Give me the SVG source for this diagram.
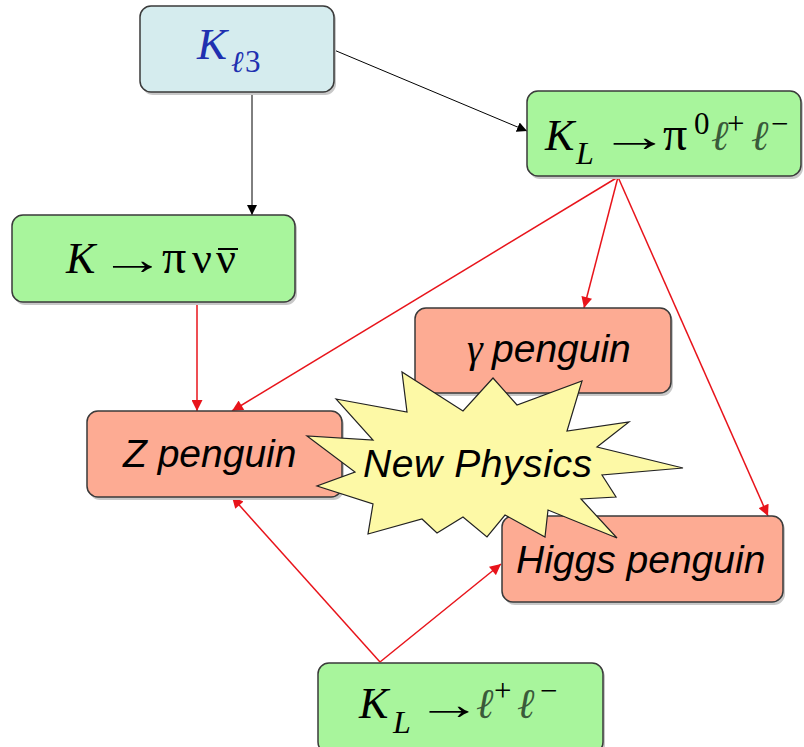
<svg xmlns="http://www.w3.org/2000/svg" width="804" height="747" viewBox="0 0 804 747">
<defs>
<style>
.box{stroke:#3a3a3a;stroke-width:1.5}
.shadow{fill:#c8c8c8}
.blue{fill:#d5ecee}
.green{fill:#a8f59c}
.salmon{fill:#fdab93}
.m{font-family:"Liberation Serif","DejaVu Serif",serif;fill:#000}
.arr{font-family:"Liberation Serif","DejaVu Serif",serif;fill:#000;font-size:44px;text-anchor:middle}
.mi{font-family:"Liberation Serif","DejaVu Serif",serif;font-style:italic;fill:#000}
.ell{font-family:"Liberation Serif","DejaVu Serif",serif;font-style:italic;fill:#3a5a3a}
.s{font-family:"Liberation Sans",Arial,sans-serif;font-style:italic;font-size:39px;fill:#000}
.blk{stroke:#000;stroke-width:1;fill:none}
.red{stroke:#e8141b;stroke-width:1.5;fill:none}
</style>
<marker id="ab" viewBox="0 0 10 10" refX="10" refY="5" markerWidth="10" markerHeight="10" markerUnits="userSpaceOnUse" orient="auto">
<path d="M0,0 L10,5 L0,10 z" fill="#000"/>
</marker>
<marker id="ar" viewBox="0 0 10 10" refX="10" refY="5" markerWidth="12" markerHeight="11" markerUnits="userSpaceOnUse" orient="auto">
<path d="M0,0 L10,5 L0,10 z" fill="#e8141b"/>
</marker>
</defs>
<rect width="804" height="747" fill="#fff"/>

<g id="connectors">
<line class="blk" x1="252" y1="92" x2="252" y2="215" marker-end="url(#ab)"/>
<line class="blk" x1="334" y1="50" x2="527" y2="131" marker-end="url(#ab)"/>
<line class="red" x1="197" y1="302" x2="197" y2="411" marker-end="url(#ar)"/>
<line class="red" x1="618" y1="177" x2="232" y2="411" marker-end="url(#ar)"/>
<line class="red" x1="618" y1="177" x2="584" y2="308" marker-end="url(#ar)"/>
<line class="red" x1="618" y1="177" x2="768" y2="516" marker-end="url(#ar)"/>
<line class="red" x1="380" y1="662" x2="232" y2="497" marker-end="url(#ar)"/>
<line class="red" x1="380" y1="662" x2="501" y2="564" marker-end="url(#ar)"/>
</g>

<g id="kl3">
<rect class="shadow" x="142" y="9" width="194" height="86" rx="11"/>
<rect class="box blue" x="140" y="6" width="194" height="86" rx="11"/>
<text class="mi" x="197" y="59" font-size="45" style="fill:#2030b0">K</text>
<text class="mi" x="231" y="72" font-size="30" style="fill:#2030b0">ℓ</text>
<text class="m" x="245" y="72" font-size="31" style="fill:#2030b0">3</text>
</g>

<g id="klpi0ll">
<rect class="shadow" x="529" y="94" width="274" height="85" rx="11"/>
<rect class="box green" x="527" y="91" width="274" height="85" rx="11"/>
<text class="mi" x="545" y="150" font-size="44">K</text>
<text class="mi" x="576" y="164" font-size="32">L</text>
<text class="arr" transform="translate(634.5,151) scale(1.6,1)">→</text>
<text class="m" x="663" y="150" font-size="48">π</text>
<text class="m" x="694" y="134" font-size="31">0</text>
<text class="ell" x="711" y="150" font-size="42">ℓ</text>
<text class="m" x="727" y="134" font-size="31">+</text>
<text class="ell" x="751" y="150" font-size="42">ℓ</text>
<text class="m" x="771" y="134" font-size="31">−</text>
</g>

<g id="kpinunu">
<rect class="shadow" x="14" y="218" width="283" height="87" rx="11"/>
<rect class="box green" x="12" y="215" width="283" height="87" rx="11"/>
<text class="mi" x="66" y="273" font-size="44">K</text>
<text class="arr" transform="translate(132.5,274) scale(1.5,1)">→</text>
<text class="m" x="162" y="273" font-size="48">π</text>
<text class="m" x="192" y="273" font-size="44">ν</text>
<text class="m" x="216" y="273" font-size="44">ν</text>
<line x1="218" y1="249" x2="238" y2="249" stroke="#000" stroke-width="2"/>
</g>

<g id="gamma">
<rect class="shadow" x="417" y="311" width="256" height="85" rx="11"/>
<rect class="box salmon" x="415" y="308" width="256" height="85" rx="11"/>
<text class="mi" x="467" y="362" font-size="40">γ</text>
<text class="s" x="492" y="362">penguin</text>
</g>

<g id="zpenguin">
<rect class="shadow" x="89" y="414" width="255" height="86" rx="11"/>
<rect class="box salmon" x="87" y="411" width="255" height="86" rx="11"/>
<text class="s" x="123" y="467">Z penguin</text>
</g>

<g id="higgs">
<rect class="shadow" x="504" y="519" width="281" height="86" rx="11"/>
<rect class="box salmon" x="502" y="516" width="281" height="86" rx="11"/>
<text class="s" x="516" y="573">Higgs penguin</text>
</g>

<g id="kll">
<rect class="shadow" x="320" y="666" width="285" height="90" rx="11"/>
<rect class="box green" x="318" y="663" width="285" height="90" rx="11"/>
<text class="mi" x="359" y="718" font-size="44">K</text>
<text class="mi" x="393" y="733" font-size="32">L</text>
<text class="arr" transform="translate(449,719) scale(1.5,1)">→</text>
<text class="ell" x="476" y="718" font-size="42">ℓ</text>
<text class="m" x="494" y="701" font-size="31">+</text>
<text class="ell" x="517" y="718" font-size="42">ℓ</text>
<text class="m" x="540" y="701" font-size="31">−</text>
</g>

<g id="newphysics">
<polygon points="336,399 407,412 402,372 463,411 493,378 517,405 582,381 567,431 629,422 597,447 683,468 602,475 616,497 581,499 617,538 548,510 545,537 505,515 487,537 463,517 437,533 422,519 368,534 373,504 317,486 355,472 307,436 373,440" fill="#fdf9a6" stroke="#222" stroke-width="1.2" stroke-linejoin="miter"/>
<text class="s" x="363" y="477" textLength="229">New Physics</text>
</g>
</svg>
